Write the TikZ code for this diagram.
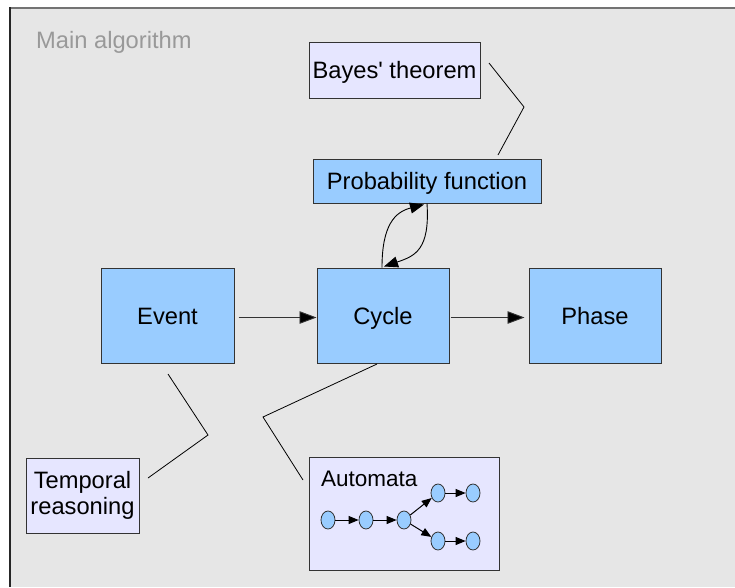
\documentclass[tikz,border=0pt]{standalone}
\usepackage{fontspec}
\setmainfont{Liberation Sans}[Ligatures=TeXOff]
\usetikzlibrary{arrows.meta,shapes.geometric}
\definecolor{bgray}{HTML}{E6E6E6}
\definecolor{boxblue}{HTML}{99CCFF}
\definecolor{lav}{HTML}{E6E6FF}
\definecolor{edgec}{HTML}{333333}
\definecolor{titlegray}{HTML}{999999}
\begin{document}
\begin{tikzpicture}[x=1pt,y=-1pt,
  box/.style={draw=edgec,line width=1pt,inner sep=0pt,font=\fontsize{23.7}{26}\selectfont,align=center},
  one/.style={text height=17.4pt,text depth=0pt},
  bluebox/.style={box,fill=boxblue},
  lavbox/.style={box,fill=lav},
  arr/.style={draw=black!80,line width=0.9pt,-{Triangle[length=17pt,width=12.5pt,fill=black]}},
  carr/.style={draw=black,line width=0.9pt,-{Triangle[length=14pt,width=11pt]}},
  sarr/.style={draw=black,line width=1pt,-{Triangle[length=10pt,width=8pt]}},
  link/.style={draw=black,line width=0.8pt},
  state/.style={ellipse,draw=edgec,line width=0.8pt,fill=boxblue,minimum width=14pt,minimum height=18pt,inner sep=0pt}]
\useasboundingbox (0,0) rectangle (735,587);
\fill[white] (0,0) rectangle (735,587);
\fill[bgray] (9,7) rectangle (735,587);
\draw[line width=2pt,black!55] (9,8) -- (735,8);
\draw[line width=2pt,black!85] (10,7) -- (10,587);
\node[anchor=base west,text=titlegray,font=\fontsize{23.7}{26}\selectfont,inner sep=0pt] (title) at (36,48) {Main algorithm};
% main boxes
\node[bluebox,one,minimum width=133pt,minimum height=95pt] (event) at (167.5,315.5) {Event};
\node[bluebox,one,minimum width=132pt,minimum height=95pt] (cycle) at (383,315.5) {Cycle};
\node[bluebox,one,minimum width=132pt,minimum height=95pt] (phase) at (595,315.5) {Phase};
\node[bluebox,one,minimum width=228pt,minimum height=44pt] (prob) at (427,181) {Probability function};
\node[lavbox,one,minimum width=171pt,minimum height=56pt] (bayes) at (394.5,70) {Bayes' theorem};
\node[lavbox,minimum width=113pt,minimum height=75pt] (temporal) at (82.5,495.5) {Temporal\\reasoning};
\node[lavbox,minimum width=190pt,minimum height=113pt] (automata) at (404,513.5) {};
\node[anchor=base west,font=\fontsize{22.5}{26}\selectfont,inner sep=0pt] (autolabel) at (321,486) {Automata};
% automata states
\node[state] (s1) at (328,520) {};
\node[state] (s2) at (366,520) {};
\node[state] (s3) at (404,520) {};
\node[state] (s4) at (438,493) {};
\node[state] (s5) at (473,493) {};
\node[state] (s6) at (438,541) {};
\node[state] (s7) at (473,541) {};
\draw[sarr] (s1) -- (s2);
\draw[sarr] (s2) -- (s3);
\draw[sarr] (s3) -- (s4);
\draw[sarr] (s3) -- (s6);
\draw[sarr] (s4) -- (s5);
\draw[sarr] (s6) -- (s7);
% arrows
\draw[arr] ([xshift=4pt,yshift=-2pt]event.east) -- ([yshift=-2pt]cycle.west);
\draw[arr,shorten >=4pt] ([xshift=1pt,yshift=-2pt]cycle.east) -- ([yshift=-2pt]phase.west);
\draw[carr] ([xshift=-1pt]cycle.north) .. controls (382,225) and (395,212) .. ([xshift=-3pt,yshift=-1pt]prob.south);
\draw[carr] (prob.south) .. controls (430,250) and (415,256) .. ([xshift=1pt,yshift=1pt]cycle.north);
% links
\coordinate (b1) at (489,63);
\coordinate (b2) at (524,107);
\coordinate (b3) at (498,155);
\draw[link] (b1) -- (b2) -- (b3);
\coordinate (t1) at (148,478);
\coordinate (t2) at (208,435);
\coordinate (t3) at (168,374);
\draw[link] (t1) -- (t2) -- (t3);
\coordinate (a1) at (377,364);
\coordinate (a2) at (263,417);
\coordinate (a3) at (303,480);
\draw[link] (a1) -- (a2) -- (a3);
\end{tikzpicture}
\end{document}
